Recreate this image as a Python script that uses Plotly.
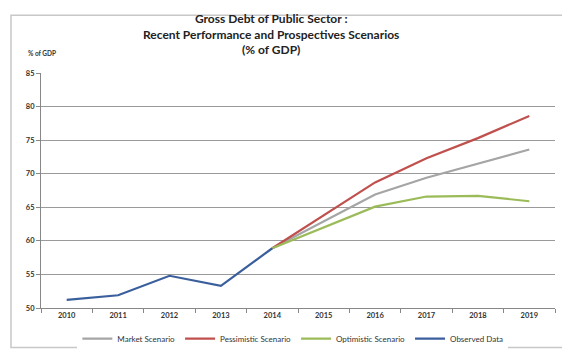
import plotly.graph_objects as go

years = ["2010", "2011", "2012", "2013", "2014", "2015", "2016", "2017", "2018", "2019"]
scenario_years = ["2014", "2015", "2016", "2017", "2018", "2019"]
observed = [51.2, 51.9, 54.8, 53.3, 58.9]
market = [58.9, 62.9, 66.9, 69.4, 71.5, 73.6]
pessimistic = [58.9, 63.8, 68.7, 72.3, 75.3, 78.6]
optimistic = [58.9, 62.0, 65.1, 66.6, 66.7, 65.9]

fig = go.Figure()
fig.add_trace(go.Scatter(x=scenario_years, y=market, mode="lines", name="Market Scenario",
                         line=dict(color="#a5a5a5", width=2.2)))
fig.add_trace(go.Scatter(x=scenario_years, y=pessimistic, mode="lines", name="Pessimistic Scenario",
                         line=dict(color="#c0504d", width=2.2)))
fig.add_trace(go.Scatter(x=scenario_years, y=optimistic, mode="lines", name="Optimistic Scenario",
                         line=dict(color="#9bbb59", width=2.2)))
fig.add_trace(go.Scatter(x=years[:5], y=observed, mode="lines", name="Observed Data",
                         line=dict(color="#3a5f9c", width=2.2)))

tickfont = dict(size=7.5, color="#333333", family="Lato, Arial, sans-serif", weight="bold")

fig.update_layout(
    width=570, height=357,
    margin=dict(l=33, r=23, t=65, b=48),
    paper_bgcolor="white", plot_bgcolor="white",
    font=dict(family="Lato, Arial, sans-serif", color="#333333"),
    showlegend=True,
    legend=dict(orientation="h", x=0.49, xanchor="center", y=-0.13, yanchor="middle",
                font=dict(size=8, color="#333333"), itemwidth=30, tracegroupgap=0),
    xaxis=dict(type="category", categoryorder="array", categoryarray=years,
               range=[-0.5, 9.5], tickson="boundaries", ticks="outside", ticklen=4,
               tickcolor="#888888", showline=True, linecolor="#888888", linewidth=1,
               showgrid=False, tickfont=tickfont, fixedrange=True),
    yaxis=dict(range=[50, 85], dtick=5, ticks="outside", ticklen=4, tickcolor="#888888",
               showline=True, linecolor="#888888", linewidth=1,
               showgrid=True, gridcolor="#9a9a9a", gridwidth=1, zeroline=False,
               tickfont=tickfont, fixedrange=True),
)

fig.add_annotation(text="<b>Gross Debt of Public Sector :<br>Recent Performance and Prospectives Scenarios<br>(% of GDP)</b>",
                   xref="paper", yref="paper", x=0.4475, y=(309 - 24) / 244, xanchor="center", yanchor="middle",
                   showarrow=False, font=dict(size=12, color="#222222"), align="center")
fig.add_annotation(text="<b>% of GDP</b>", xref="paper", yref="paper", x=0.002, y=1.082,
                   xanchor="center", yanchor="middle", showarrow=False,
                   font=dict(size=6.5, color="#333333"))
fig.add_shape(type="rect", xref="paper", yref="paper", x0=-0.0584, x1=1.0214, y0=-0.168, y1=1.246,
              line=dict(color="#c8c8c8", width=1.5), layer="below")

fig.write_html("out.html")
